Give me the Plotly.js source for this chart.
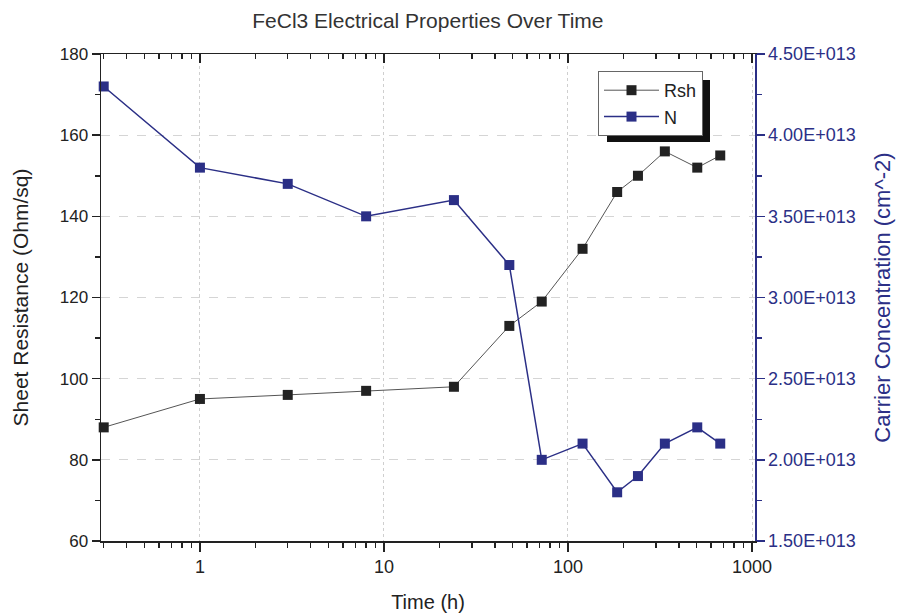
<!DOCTYPE html>
<html>
<head>
<meta charset="utf-8">
<script src="https://cdn.plot.ly/plotly-3.0.1.min.js"></script>
<style>html,body{margin:0;padding:0;background:#fff}#chart{width:897px;height:615px}</style>
</head>
<body>
<div id="chart"></div>
<script>
// Data
const timeH = [0.3, 1, 3, 8, 24, 48, 72, 120, 185, 240, 336, 504, 672];
const rsh = [88, 95, 96, 97, 98, 113, 119, 132, 146, 150, 156, 152, 155];
const carrierN = [4.3e13, 3.8e13, 3.7e13, 3.5e13, 3.6e13, 3.2e13, 2.0e13, 2.1e13, 1.8e13, 1.9e13, 2.1e13, 2.2e13, 2.1e13];
const xTickVals = [1, 10, 100, 1000];
const xTickText = ['1', '10', '100', '1000'];
const yTickVals = [60, 80, 100, 120, 140, 160, 180];
const y2TickVals = [1.5e13, 2.0e13, 2.5e13, 3.0e13, 3.5e13, 4.0e13, 4.5e13];
const y2TickText = ['1.50E+013', '2.00E+013', '2.50E+013', '3.00E+013', '3.50E+013', '4.00E+013', '4.50E+013'];

const navy = '#2b2f86';
const font = 'Liberation Sans, Arial, sans-serif';

const minorX = [];
[0.1, 1, 10, 100].forEach(d => { for (let k = 2; k <= 9; k++) minorX.push(d * k); });
const xRange = [Math.log10(0.29), Math.log10(1038)];

const traces = [
  {
    x: timeH, y: rsh, name: 'Rsh', type: 'scatter', mode: 'lines+markers',
    line: {color: '#555555', width: 1},
    marker: {symbol: 'square', size: 10, color: '#222222', line: {width: 0}},
    yaxis: 'y', cliponaxis: false
  },
  {
    x: timeH, y: carrierN, name: 'N', type: 'scatter', mode: 'lines+markers',
    line: {color: navy, width: 1.5},
    marker: {symbol: 'square', size: 10, color: navy, line: {width: 0}},
    yaxis: 'y2', cliponaxis: false
  },
  {
    x: timeH, y: rsh, xaxis: 'x2', yaxis: 'y', type: 'scatter', mode: 'markers',
    marker: {opacity: 0}, showlegend: false, hoverinfo: 'skip'
  }
];

const L = 101, T = 54, W = 654, H = 487;
const px = v => (v - L) / W;
const py = v => 1 - (v - T) / H;

const layout = {
  width: 897, height: 615,
  margin: {l: L, r: 897 - L - W, t: T, b: 615 - T - H},
  paper_bgcolor: '#ffffff', plot_bgcolor: '#ffffff',
  font: {family: font, size: 17, color: '#222222'},
  title: {text: 'FeCl3 Electrical Properties Over Time', x: 0.477, xanchor: 'center', y: 0.967, yanchor: 'middle',
          font: {family: font, size: 21, color: '#333333'}},
  showlegend: true,
  xaxis: {
    type: 'log', range: xRange,
    tickvals: xTickVals, ticktext: xTickText,
    ticks: 'outside', ticklen: 9, tickwidth: 1.5, tickcolor: '#222',
    showline: true, linecolor: '#222', linewidth: 1.5,
    showgrid: true, gridcolor: '#cfcfcf', griddash: 'dot', gridwidth: 1,
    minor: {tickvals: minorX, ticks: 'outside', ticklen: 5, tickwidth: 1.5, tickcolor: '#222', showgrid: false},
    zeroline: false,
    title: {text: 'Time (h)', font: {family: font, size: 20, color: '#222'}, standoff: 19},
    tickfont: {family: font, size: 18, color: '#222'}
  },
  xaxis2: {
    type: 'log', range: xRange, overlaying: 'x', side: 'top', anchor: 'y',
    tickvals: xTickVals, showticklabels: false,
    ticks: 'inside', ticklen: 9, tickwidth: 1.5, tickcolor: '#222',
    showline: true, linecolor: '#222', linewidth: 1.5,
    showgrid: false, zeroline: false,
    minor: {tickvals: minorX, ticks: 'inside', ticklen: 5, tickwidth: 1.5, tickcolor: '#222', showgrid: false}
  },
  yaxis: {
    range: [60, 180], tickvals: yTickVals,
    ticks: 'outside', ticklen: 8, tickwidth: 1.5, tickcolor: '#222',
    showline: true, linecolor: '#222', linewidth: 1.5,
    showgrid: true, gridcolor: '#d5d5d5', griddash: 'dash', gridwidth: 1,
    minor: {dtick: 10, ticks: 'outside', ticklen: 5, tickwidth: 1.5, tickcolor: '#222', showgrid: false},
    zeroline: false,
    title: {text: 'Sheet Resistance (Ohm/sq)', font: {family: font, size: 21, color: '#222'}, standoff: 25},
    tickfont: {family: font, size: 17, color: '#222'}
  },
  yaxis2: {
    overlaying: 'y', side: 'right', anchor: 'x',
    range: [1.5e13, 4.5e13], tickvals: y2TickVals, ticktext: y2TickText,
    ticks: 'outside', ticklen: 8, tickwidth: 1.5, tickcolor: navy,
    showline: true, linecolor: navy, linewidth: 1.5,
    showgrid: false, zeroline: false,
    minor: {dtick: 2.5e12, ticks: 'outside', ticklen: 5, tickwidth: 1.5, tickcolor: navy, showgrid: false},
    title: {text: 'Carrier Concentration (cm^-2)', font: {family: font, size: 22, color: navy}, standoff: 20},
    tickfont: {family: font, size: 18, color: navy}
  },
  legend: {
    x: px(598), y: py(71), xanchor: 'left', yanchor: 'top',
    bgcolor: '#ffffff', bordercolor: '#666666', borderwidth: 1,
    font: {family: font, size: 18, color: '#222'},
    itemwidth: 55, tracegroupgap: 0
  },
  shapes: [
    {type: 'rect', xref: 'paper', yref: 'paper', x0: px(607), x1: px(710), y0: py(142), y1: py(80),
     fillcolor: '#111111', line: {width: 0}, layer: 'above'}
  ]
};

Plotly.newPlot('chart', traces, layout, {displayModeBar: false, staticPlot: true});
</script>
</body>
</html>
